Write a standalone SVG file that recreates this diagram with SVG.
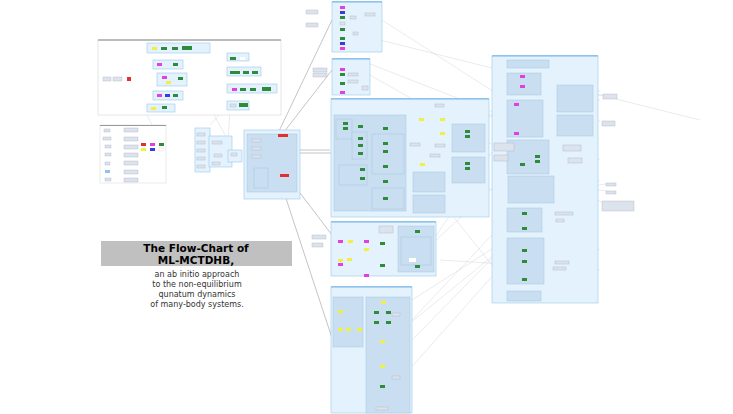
<svg xmlns="http://www.w3.org/2000/svg" width="733" height="414" viewBox="0 0 733 414">
<style>
.pan{fill:#e3f2fd;stroke:#9cc8ec;stroke-width:0.6}
.hd{fill:#8ec3ee}
.in{fill:#c9def0;stroke:#a8c6e0;stroke-width:0.5}
.nd{fill:#dde3ec;stroke:#aab6c8;stroke-width:0.4}
.g{fill:#2e8b3a}.m{fill:#e040e0}.y{fill:#f0f040}.b{fill:#3a3ae0}.r{fill:#e03030}
.ln{stroke:#888;stroke-width:0.5;fill:none}
.lt{stroke:#c8ccd4;stroke-width:0.4;fill:none}
.t{font-family:"DejaVu Sans",sans-serif;text-anchor:middle}
</style>
<rect width="733" height="414" fill="#fff"/>
<g id="connectors">
<path class="ln" d="M270 150 L332 20 M270 150 L332 70 M270 153 L332 153 M275 160 L332 235 M275 165 L332 338 M300 150 L330 150"/>
<path class="lt" d="M382 20 L600 160 M370 75 L590 200 M400 130 L600 100 M420 150 L600 250 M440 200 L520 300 M436 240 L600 90 M412 320 L600 120 M412 340 L520 230 M412 300 L600 180 M400 380 L560 200 M480 120 L560 80 M360 60 L590 150 M440 260 L600 270 M340 380 L500 250 M420 260 L520 110 M380 40 L700 120 M598 95 L615 96 M598 185 L615 183 M598 190 L615 192 M598 200 L605 205 M540 213 L575 213 M540 262 L570 262 M110 79 L130 79 M130 79 L152 50 M130 79 L152 88 M130 79 L152 125 M130 79 L152 108 M130 79 L148 106 M200 88 L228 70 M210 125 L228 105 M210 108 L228 140 M230 110 L228 140"/>
</g>
<g id="overview">
<rect x="98" y="40" width="183" height="75" fill="#fff" stroke="#ccc" stroke-width="0.5"/>
<rect x="98" y="39" width="183" height="2" fill="#bbb"/>
<rect x="103" y="77" width="8" height="4" class="nd"/><rect x="113" y="77" width="9" height="4" class="nd"/><rect x="127" y="77" width="4" height="4" class="r"/>
<rect x="147" y="43" width="63" height="10" class="pan"/><rect x="152" y="47" width="5" height="3" class="y"/><rect x="161" y="47" width="6" height="3" class="g"/><rect x="172" y="47" width="6" height="3" class="g"/><rect x="182" y="46" width="10" height="4" class="g"/>
<rect x="153" y="60" width="30" height="9" class="pan"/><rect x="157" y="63" width="5" height="3" class="m"/><rect x="173" y="63" width="5" height="3" class="g"/>
<rect x="157" y="73" width="30" height="13" class="pan"/><rect x="162" y="76" width="5" height="3" class="m"/><rect x="178" y="77" width="5" height="3" class="g"/><rect x="166" y="81" width="5" height="3" class="y"/>
<rect x="153" y="91" width="30" height="9" class="pan"/><rect x="157" y="94" width="5" height="3" class="m"/><rect x="165" y="94" width="5" height="3" class="b"/><rect x="173" y="94" width="5" height="3" class="g"/>
<rect x="147" y="104" width="28" height="8" class="pan"/><rect x="151" y="107" width="5" height="3" class="y"/><rect x="162" y="106" width="5" height="3" class="g"/>
<rect x="227" y="53" width="22" height="8" class="pan"/><rect x="230" y="57" width="6" height="3" class="g"/><rect x="240" y="57" width="5" height="3" fill="#fff"/>
<rect x="227" y="67" width="34" height="9" class="pan"/><rect x="230" y="71" width="10" height="3" class="g"/><rect x="243" y="71" width="6" height="3" class="g"/><rect x="252" y="71" width="6" height="3" class="g"/>
<rect x="227" y="84" width="50" height="9" class="pan"/><rect x="232" y="88" width="5" height="3" class="m"/><rect x="240" y="88" width="6" height="3" class="g"/><rect x="250" y="88" width="6" height="3" class="g"/><rect x="262" y="87" width="9" height="4" class="g"/>
<rect x="227" y="101" width="22" height="9" class="pan"/><rect x="230" y="104" width="6" height="3" class="nd"/><rect x="239" y="103" width="9" height="4" class="g"/>
</g>
<g id="legend">
<rect x="100" y="125" width="66" height="58" fill="#fff" stroke="#ccc" stroke-width="0.4"/>
<rect x="100" y="125" width="66" height="1" fill="#999"/>
<rect x="104" y="129" width="6" height="3" class="nd"/><rect x="124" y="128" width="14" height="4" class="nd"/>
<rect x="103" y="137" width="8" height="3" class="nd"/><rect x="124" y="137" width="14" height="4" class="nd"/>
<rect x="105" y="145" width="6" height="3" class="nd"/><rect x="124" y="145" width="14" height="4" class="nd"/>
<rect x="105" y="153" width="6" height="3" class="nd"/><rect x="124" y="153" width="14" height="4" class="nd"/>
<rect x="105" y="162" width="5" height="3" class="nd"/><rect x="124" y="161" width="14" height="4" class="nd"/>
<rect x="105" y="170" width="5" height="3" class="hd"/><rect x="124" y="170" width="14" height="4" class="nd"/>
<rect x="105" y="178" width="6" height="3" class="nd"/><rect x="124" y="178" width="14" height="4" class="nd"/>
<rect x="141" y="143" width="5" height="3" class="r"/><rect x="150" y="143" width="5" height="3" class="m"/><rect x="159" y="143" width="5" height="3" class="g"/>
<rect x="141" y="148" width="5" height="3" class="y"/><rect x="150" y="148" width="5" height="3" class="b"/><rect x="159" y="148" width="5" height="3" fill="#fff" stroke="#ccc" stroke-width="0.3"/>
</g>
<g id="mid">
<rect x="195" y="128" width="15" height="44" class="pan"/>
<rect x="197" y="133" width="8" height="3" class="nd"/><rect x="197" y="141" width="8" height="3" class="nd"/><rect x="197" y="149" width="8" height="3" class="nd"/><rect x="197" y="157" width="8" height="3" class="nd"/><rect x="197" y="165" width="8" height="3" class="nd"/>
<rect x="209" y="136" width="23" height="31" class="pan"/>
<rect x="212" y="141" width="10" height="3" class="nd"/><rect x="214" y="154" width="8" height="3" class="nd"/><rect x="212" y="162" width="8" height="3" class="nd"/>
<rect x="228" y="150" width="14" height="12" class="pan"/><rect x="231" y="153" width="6" height="3" class="nd"/>
<rect x="244" y="130" width="56" height="69" class="pan"/>
<rect x="247" y="134" width="50" height="58" class="in"/>
<rect x="252" y="139" width="9" height="3" class="nd"/><rect x="252" y="147" width="9" height="3" class="nd"/><rect x="252" y="155" width="9" height="3" class="nd"/>
<rect x="254" y="168" width="14" height="20" class="in"/>
<rect x="278" y="134" width="10" height="3" class="r"/><rect x="280" y="174" width="9" height="3" class="r"/>
</g>
<g id="panelA">
<rect x="332" y="2" width="50" height="50" class="pan"/><rect x="332" y="1" width="50" height="1.5" class="hd"/>
<rect x="340" y="6" width="5" height="3" class="m"/><rect x="340" y="11" width="5" height="3" class="b"/><rect x="340" y="16" width="5" height="3" class="g"/><rect x="340" y="22" width="5" height="3" class="nd"/><rect x="340" y="28" width="5" height="3" class="g"/><rect x="340" y="37" width="5" height="3" class="g"/><rect x="340" y="42" width="5" height="3" class="b"/><rect x="340" y="47" width="5" height="3" class="m"/>
<rect x="350" y="16" width="6" height="3" class="nd"/><rect x="365" y="13" width="10" height="3" class="nd"/><rect x="353" y="32" width="5" height="3" class="nd"/>
<rect x="306" y="10" width="12" height="4" class="nd"/><rect x="306" y="23" width="12" height="4" class="nd"/>
</g>
<g id="panelB">
<rect x="332" y="59" width="38" height="36" class="pan"/><rect x="332" y="58" width="38" height="1.5" class="hd"/>
<rect x="340" y="68" width="5" height="3" class="m"/><rect x="340" y="73" width="5" height="3" class="g"/><rect x="340" y="82" width="5" height="3" class="g"/><rect x="340" y="91" width="5" height="3" class="m"/>
<rect x="348" y="73" width="10" height="3" class="nd"/><rect x="348" y="80" width="10" height="3" class="nd"/><rect x="362" y="86" width="6" height="4" class="nd"/>
<rect x="313" y="68" width="14" height="4" class="nd"/><rect x="313" y="73" width="14" height="4" class="nd"/>
</g>
<g id="panelC">
<rect x="331" y="99" width="158" height="118" class="pan"/><rect x="331" y="98" width="158" height="1.5" class="hd"/>
<rect x="334" y="115" width="72" height="96" class="in"/>
<rect x="336" y="119" width="16" height="20" class="in"/><rect x="352" y="132" width="15" height="27" class="in"/><rect x="372" y="134" width="32" height="40" class="in"/>
<rect x="339" y="165" width="28" height="20" class="in"/><rect x="372" y="188" width="32" height="21" class="in"/>
<rect x="452" y="124" width="33" height="28" class="in"/><rect x="452" y="157" width="33" height="26" class="in"/>
<rect x="413" y="172" width="32" height="20" class="in"/><rect x="413" y="195" width="32" height="18" class="in"/>
<rect x="343" y="122" width="5" height="3" class="g"/><rect x="343" y="127" width="5" height="3" class="g"/><rect x="358" y="137" width="5" height="3" class="g"/><rect x="358" y="144" width="5" height="3" class="g"/><rect x="358" y="152" width="5" height="3" class="g"/>
<rect x="383" y="127" width="5" height="3" class="g"/><rect x="383" y="142" width="5" height="3" class="g"/><rect x="383" y="150" width="5" height="3" class="g"/><rect x="383" y="165" width="5" height="3" class="g"/><rect x="383" y="180" width="5" height="3" class="g"/><rect x="383" y="197" width="5" height="3" class="g"/><rect x="360" y="168" width="5" height="3" class="g"/><rect x="360" y="177" width="5" height="3" class="g"/><rect x="358" y="125" width="5" height="3" class="g"/>
<rect x="419" y="118" width="5" height="3" class="y"/><rect x="440" y="118" width="5" height="3" class="y"/><rect x="440" y="132" width="5" height="3" class="y"/><rect x="420" y="163" width="5" height="3" class="y"/>
<rect x="465" y="130" width="5" height="3" class="g"/><rect x="465" y="135" width="5" height="3" class="g"/><rect x="465" y="162" width="5" height="3" class="g"/><rect x="465" y="167" width="5" height="3" class="g"/>
<rect x="435" y="144" width="10" height="3" class="nd"/><rect x="410" y="143" width="10" height="3" class="nd"/><rect x="430" y="154" width="10" height="3" class="nd"/><rect x="435" y="104" width="9" height="3" class="nd"/>
</g>
<g id="panelD">
<rect x="331" y="222" width="105" height="54" class="pan"/><rect x="331" y="221" width="105" height="1.5" class="hd"/>
<rect x="398" y="226" width="36" height="46" class="in"/><rect x="401" y="237" width="30" height="28" class="in"/>
<rect x="338" y="240" width="5" height="3" class="m"/><rect x="348" y="240" width="5" height="3" class="y"/><rect x="364" y="240" width="5" height="3" class="m"/><rect x="380" y="242" width="5" height="3" class="g"/>
<rect x="338" y="259" width="5" height="3" class="y"/><rect x="338" y="263" width="5" height="3" class="m"/><rect x="347" y="258" width="5" height="3" class="y"/><rect x="364" y="248" width="5" height="3" class="y"/><rect x="364" y="274" width="5" height="3" class="m"/><rect x="380" y="264" width="5" height="3" class="g"/>
<rect x="415" y="230" width="5" height="3" class="g"/><rect x="415" y="265" width="5" height="3" class="g"/><rect x="409" y="258" width="7" height="4" fill="#fff"/>
<rect x="312" y="235" width="14" height="4" class="nd"/><rect x="312" y="243" width="11" height="4" class="nd"/>
<rect x="379" y="226" width="14" height="7" class="nd"/>
</g>
<g id="panelE">
<rect x="331" y="287" width="81" height="126" class="pan"/><rect x="331" y="286" width="81" height="1.5" class="hd"/>
<rect x="333" y="297" width="30" height="50" class="in"/><rect x="366" y="297" width="44" height="116" class="in"/>
<rect x="338" y="310" width="5" height="3" class="y"/><rect x="346" y="328" width="5" height="3" class="y"/><rect x="357" y="328" width="5" height="3" class="y"/><rect x="338" y="328" width="5" height="3" class="y"/>
<rect x="381" y="301" width="5" height="3" class="y"/><rect x="374" y="311" width="5" height="3" class="g"/><rect x="386" y="311" width="5" height="3" class="g"/><rect x="374" y="321" width="5" height="3" class="g"/><rect x="386" y="321" width="5" height="3" class="g"/>
<rect x="380" y="340" width="5" height="3" class="y"/><rect x="380" y="365" width="5" height="3" class="y"/><rect x="380" y="385" width="5" height="3" class="g"/><rect x="376" y="407" width="12" height="3" class="nd"/>
<rect x="392" y="313" width="8" height="3" class="nd"/><rect x="392" y="376" width="8" height="3" class="nd"/>
</g>
<g id="panelRight">
<rect x="492" y="56" width="106" height="247" class="pan"/><rect x="492" y="55" width="106" height="1.5" class="hd"/>
<rect x="507" y="60" width="42" height="8" class="in"/>
<rect x="507" y="73" width="34" height="22" class="in"/><rect x="520" y="75" width="5" height="3" class="m"/><rect x="520" y="85" width="5" height="3" class="m"/>
<rect x="507" y="100" width="36" height="37" class="in"/><rect x="514" y="103" width="5" height="3" class="m"/><rect x="514" y="132" width="5" height="3" class="m"/>
<rect x="557" y="85" width="36" height="27" class="in"/><rect x="557" y="115" width="36" height="21" class="in"/>
<rect x="507" y="140" width="42" height="34" class="in"/><rect x="535" y="155" width="5" height="3" class="g"/><rect x="535" y="160" width="5" height="3" class="g"/><rect x="520" y="163" width="5" height="3" class="g"/>
<rect x="508" y="176" width="46" height="27" class="in"/>
<rect x="507" y="208" width="35" height="24" class="in"/><rect x="522" y="212" width="5" height="3" class="g"/><rect x="522" y="227" width="5" height="3" class="g"/>
<rect x="507" y="238" width="37" height="46" class="in"/><rect x="522" y="249" width="5" height="3" class="g"/><rect x="522" y="260" width="5" height="3" class="g"/><rect x="522" y="278" width="5" height="3" class="g"/>
<rect x="507" y="291" width="34" height="10" class="in"/>
<rect x="603" y="94" width="14" height="5" class="nd"/><rect x="602" y="121" width="13" height="5" class="nd"/><rect x="606" y="183" width="10" height="3" class="nd"/><rect x="606" y="191" width="10" height="3" class="nd"/><rect x="602" y="201" width="32" height="10" class="nd"/>
<rect x="563" y="145" width="18" height="6" class="nd"/><rect x="568" y="158" width="14" height="5" class="nd"/>
<rect x="555" y="212" width="18" height="3" class="nd"/><rect x="556" y="219" width="8" height="3" class="nd"/><rect x="555" y="261" width="14" height="3" class="nd"/><rect x="553" y="267" width="13" height="3" class="nd"/>
<rect x="494" y="143" width="20" height="8" class="nd"/><rect x="494" y="155" width="14" height="6" class="nd"/>
</g>
<g id="title">
<rect x="101" y="241" width="191" height="25" fill="#c0c0c0"/>
<text class="t" x="196" y="252" font-size="10.5" font-weight="bold">The Flow-Chart of</text>
<text class="t" x="196" y="264" font-size="10.5" font-weight="bold">ML-MCTDHB,</text>
<text class="t" x="197" y="277" font-size="8" fill="#333">an ab initio approach</text>
<text class="t" x="197" y="287" font-size="8" fill="#333">to the non-equilibrium</text>
<text class="t" x="197" y="297" font-size="8" fill="#333">qunatum dynamics</text>
<text class="t" x="197" y="307" font-size="8" fill="#333">of many-body systems.</text>
</g>
</svg>
